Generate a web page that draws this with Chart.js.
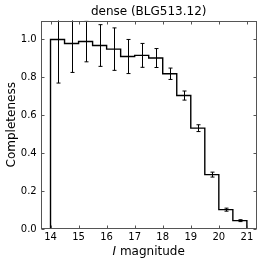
<!DOCTYPE html>
<html>
<head>
<meta charset="utf-8">
<script src="https://cdn.jsdelivr.net/npm/chart.js@4.4.0/dist/chart.umd.min.js"></script>
<style>
  html, body { margin: 0; padding: 0; background: #fff; }
  #wrap { width: 266px; height: 266px; }
</style>
</head>
<body>
<div id="wrap"><canvas id="c" width="266" height="266"></canvas></div>
<script>
// histogram bins (I magnitude) and completeness per bin
const binEdges = [14, 14.5, 15, 15.5, 16, 16.5, 17, 17.5, 18, 18.5, 19, 19.5, 20, 20.5, 21];
const completeness = [1.0, 0.979, 0.989, 0.968, 0.949, 0.910, 0.916, 0.902, 0.819, 0.704, 0.532, 0.287, 0.102, 0.044];
const errors = [0.23, 0.153, 0.107, 0.11, 0.112, 0.09, 0.063, 0.05, 0.03, 0.024, 0.018, 0.013, 0.008, 0.005];
const xTicks = [14, 15, 16, 17, 18, 19, 20, 21];
const yTicks = [0, 0.2, 0.4, 0.6, 0.8, 1.0];

Chart.defaults.font.family = 'DejaVu Sans';
Chart.defaults.color = '#000';

// step outline like histtype='step'
const stepPoints = [{ x: binEdges[0], y: 0 }];
completeness.forEach((v, i) => stepPoints.push({ x: binEdges[i], y: v }));
stepPoints.push({ x: binEdges[binEdges.length - 1], y: completeness[completeness.length - 1] });
stepPoints.push({ x: binEdges[binEdges.length - 1], y: 0 });

const decor = {
  id: 'decor',
  afterDatasetsDraw(chart) {
    const { ctx, chartArea: a, scales: { x, y } } = chart;
    ctx.save();
    ctx.beginPath();
    ctx.rect(a.left, a.top, a.right - a.left, a.bottom - a.top);
    ctx.clip();
    ctx.strokeStyle = '#000';
    ctx.lineWidth = 1;
    completeness.forEach((v, i) => {
      const cx = Math.round(x.getPixelForValue((binEdges[i] + binEdges[i + 1]) / 2)) + 0.5;
      const yHi = y.getPixelForValue(v + errors[i]);
      const yLo = y.getPixelForValue(v - errors[i]);
      ctx.beginPath();
      ctx.moveTo(cx, yHi); ctx.lineTo(cx, yLo);
      ctx.moveTo(cx - 2, yHi); ctx.lineTo(cx + 2, yHi);
      ctx.moveTo(cx - 2, yLo); ctx.lineTo(cx + 2, yLo);
      ctx.stroke();
    });
    ctx.restore();

    // frame and inward ticks on all sides
    ctx.save();
    ctx.strokeStyle = '#555';
    ctx.lineWidth = 1;
    const L = Math.round(a.left) + 0.5, R = Math.round(a.right) - 0.5;
    const T = Math.round(a.top) + 0.5, B = Math.round(a.bottom) - 0.5;
    ctx.strokeRect(L, T, R - L, B - T);
    ctx.beginPath();
    xTicks.forEach(t => {
      const px = Math.round(x.getPixelForValue(t)) + 0.5;
      ctx.moveTo(px, B); ctx.lineTo(px, B - 3);
      ctx.moveTo(px, T); ctx.lineTo(px, T + 3);
    });
    yTicks.forEach(t => {
      const py = Math.round(y.getPixelForValue(t)) + 0.5;
      ctx.moveTo(L, py); ctx.lineTo(L + 3, py);
      ctx.moveTo(R, py); ctx.lineTo(R - 3, py);
    });
    ctx.stroke();

    // x label with italic I
    const cx = (a.left + a.right) / 2;
    ctx.fillStyle = '#000';
    ctx.textBaseline = 'alphabetic';
    ctx.font = 'italic 12px DejaVu Sans';
    const w1 = ctx.measureText('I').width;
    ctx.font = '12px DejaVu Sans';
    const w2 = ctx.measureText(' magnitude').width;
    const x0 = cx - (w1 + w2) / 2;
    ctx.font = 'italic 12px DejaVu Sans';
    ctx.fillText('I', x0, 255);
    ctx.font = '12px DejaVu Sans';
    ctx.fillText(' magnitude', x0 + w1, 255);
    ctx.restore();
  }
};

new Chart(document.getElementById('c'), {
  type: 'line',
  data: {
    datasets: [{
      data: stepPoints,
      stepped: 'before',
      borderColor: '#000',
      borderWidth: 1.4,
      pointRadius: 0,
      fill: false,
    }],
  },
  options: {
    responsive: false,
    animation: false,
    devicePixelRatio: 1,
    layout: { padding: { left: 0, right: 9.3, top: 0, bottom: 0 } },
    plugins: {
      legend: { display: false },
      tooltip: { enabled: false },
      title: {
        display: true,
        text: 'dense (BLG513.12)',
        fullSize: false,
        font: { size: 12, weight: 'normal' },
        padding: { top: 5, bottom: 1.1 },
      },
    },
    scales: {
      x: {
        type: 'linear',
        min: 13.65,
        max: 21.35,
        grid: { display: false, drawTicks: false },
        border: { display: false },
        afterBuildTicks: s => { s.ticks = xTicks.map(v => ({ value: v })); },
        afterFit: s => { s.height = 37; },
        ticks: { font: { size: 10 }, padding: 2, maxRotation: 0 },
      },
      y: {
        min: 0,
        max: 1.1,
        grid: { display: false, drawTicks: false },
        border: { display: false },
        afterBuildTicks: s => { s.ticks = yTicks.map(v => ({ value: v })); },
        afterFit: s => { s.width = 40.7; },
        ticks: { font: { size: 10 }, padding: 4, callback: v => v.toFixed(1) },
        title: { display: true, text: 'Completeness', font: { size: 12 }, padding: { top: 4.5, bottom: 0 } },
      },
    },
  },
  plugins: [decor],
});
</script>
</body>
</html>
